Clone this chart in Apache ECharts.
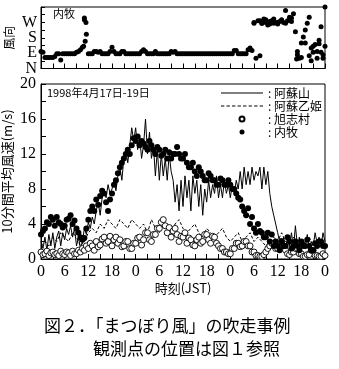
<!DOCTYPE html>
<html><head><meta charset="utf-8">
<script src="https://cdn.jsdelivr.net/npm/echarts@6/dist/echarts.min.js"></script>
<style>html,body{margin:0;padding:0;background:#fff}#c{width:339px;height:369px}</style>
</head><body><div id="c"></div>
<script>
// time step of the 30-minute arrays (hours)
const STEP = 0.5;
// x ticks every 3 h, labels every 6 h (hour of day)
const xTickHours = 3;
const dirLabels = {0:'N', 90:'E', 180:'S', 270:'W'};
const legendNames = ['阿蘇山','阿蘇乙姫','旭志村','内牧'];

// 阿蘇山 (solid line), every 30 min, h0..h72
const asosan = [
 2.0,1.2,2.5,1.0,2.8,1.5,3.0,1.2,2.5,3.2,1.5,3.0,2.2,3.5,2.8,3.8,2.5,3.5,1.5,2.5,1.2,2.0,3.5,2.8,
 4.2,3.5,4.8,4.0,5.5,6.5,5.0,7.0,8.0,7.0,8.5,7.5,8.0,9.0,7.8,9.5,10.5,9.0,11.5,12.5,11.0,13.0,15.0,13.5,
 15.0,12.5,14.0,11.5,13.0,16.0,12.0,14.5,11.5,13.0,9.5,12.5,9.0,12.0,9.5,11.5,9.0,12.0,10.0,9.0,6.5,8.5,5.5,9.0,
 6.0,9.5,7.0,9.0,5.5,9.5,7.5,9.0,6.0,8.5,5.0,8.0,6.5,9.0,7.0,8.5,7.5,9.5,7.0,8.5,7.0,9.0,7.5,8.5,
 7.0,8.5,7.5,9.0,8.0,10.0,8.0,10.5,8.5,10.0,8.5,10.5,9.0,10.0,9.5,10.5,8.0,10.5,8.5,10.0,7.5,6.0,5.0,4.0,
 3.0,2.0,1.5,2.5,1.0,2.5,1.5,3.0,1.2,3.8,1.5,2.5,1.0,2.2,1.5,2.8,1.2,2.0,1.5,3.0,1.8,2.5,1.5,3.0,2.0
];
// 阿蘇乙姫 (dashed line), hourly, h0..h72
const otohime = [
 1.5,2,1.5,2.5,2,3,2.5,2,3,2.5,1.5,
 2,3,3.5,3,4,3.5,4.5,4,3.5,4.5,4,3.5,4.5,4,
 3.5,4,3,4.5,3.5,3,4,3.5,3,4,4.5,3.5,3,3.5,4,3,2.5,3.5,3,2.5,3,3.5,2.5,2,
 2.5,3,2,2.5,3,2,2.5,2,1.5,2,2.5,2,3,2,1.5,2.5,2,1.5,2,2.5,1.5,2,1.5,2
];
// 旭志村 (open circles), every 30 min
const kyokushi = [
 0.8,0.5,0.6,0.9,0.4,0.7,0.8,0.5,0.6,0.4,0.9,0.6,0.5,0.8,0.7,0.4,0.9,0.6,0.6,1.0,
 0.8,1.2,1.0,1.5,1.2,1.8,1.5,1.0,2.0,1.4,1.6,2.3,2.5,1.8,2.0,2.6,1.5,2.2,2.5,1.8,
 2.2,1.4,1.5,2.0,2.0,1.2,1.2,1.8,1.8,2.4,2.5,1.6,2.2,3.0,3.0,2.2,2.0,2.8,2.8,3.5,
 3.5,4.2,4.5,3.8,3.0,3.6,2.5,3.2,3.5,2.8,2.0,2.6,2.5,3.0,1.8,2.4,2.2,1.6,1.5,2.2,
 2.5,1.8,2.0,2.8,2.8,2.2,1.8,2.6,2.5,1.8,1.5,1.2,1.2,0.8,0.8,0.6,0.6,1.2,1.2,1.8,
 1.8,1.4,1.5,2.0,2.0,1.5,1.5,0.8,0.8,0.4,0.4,0.3,0.3,0.5,0.8,1.2,1.5,1.8,1.8,1.2,
 1.2,2.0,2.0,1.5,1.0,0.6,0.5,0.8,0.8,1.2,1.2,0.6,0.6,0.3,0.3,0.5,0.5,1.0,1.0,0.4,
 0.4,0.3,0.3,0.6,0.4
];
// 内牧 (filled dots), every 30 min
const naimaki = [
 2.8,3.2,3.5,4.2,4.0,4.8,4.5,3.8,4.8,4.2,4.0,3.6,3.8,4.5,4.6,5.0,4.0,4.4,3.5,3.0,
 2.5,2.2,2.4,3.5,4.5,5.5,6.0,5.5,6.8,6.2,7.2,7.8,7.5,6.5,5.5,6.8,7.5,8.5,9.0,9.8,
 10.5,11.0,11.5,12.0,12.5,12.0,13.0,13.8,13.5,14.0,13.0,13.5,13.2,12.8,12.5,13.5,13.0,12.5,12.0,12.8,
 12.5,11.8,12.0,12.5,11.5,12.2,11.5,12.0,12.0,12.8,12.0,11.5,11.5,12.0,11.0,10.5,10.5,11.0,10.0,9.5,
 10.5,10.0,9.5,9.0,9.0,9.8,9.5,9.0,9.0,8.5,8.5,9.2,9.0,8.5,8.5,9.0,8.5,8.0,8.0,7.5,
 7.0,6.8,6.0,5.5,5.0,5.8,4.0,4.8,3.5,3.0,4.0,3.2,3.0,2.5,2.5,3.0,2.0,2.8,1.5,2.0,
 1.5,1.0,2.0,1.5,1.5,2.5,2.0,1.2,1.5,2.0,1.5,1.0,2.0,1.5,1.5,2.2,1.5,1.0,1.0,1.8,
 1.5,2.0,2.0,1.5,1.5
];
// 内牧 wind direction (deg), every 30 min
const naimakiDir = [
 100,95,65,65,65,65,65,70,86,86,50,86,86,86,86,86,86,86,95,100,110,125,285,200,86,
 86,86,100,100,95,100,86,86,86,86,100,125,100,86,86,86,100,100,86,86,86,86,86,86,86,
 86,100,110,100,86,86,86,86,100,86,86,86,86,86,86,86,100,95,100,86,86,86,86,86,86,86,
 86,86,86,86,86,86,86,86,86,86,86,86,86,86,86,86,86,86,86,86,86,86,105,105,86,86,86,
 86,86,110,120,105,
 270,60,280,75,
 265,290,270,255,275,280,265,270,260,275,285,270,265,280,300,275,320,
 215,
 80,60,150,185,225,265,300,120,95,140,100,165,245,80,130,280
];
// additional 内牧 direction readings [hour, deg]
const naimakiDirExtra = [
 [10.8,130],[11.0,295],[11.2,160],[11.4,270],[54.0,265],[55.5,280],[56,265],[57,285],
 [58,260],[59,290],[60,270],[61,280],[62,340],[63.5,295],[64.8,55],[65,100],[66,65],
 [67,150],[68,75],[68.5,45],[69,130],[70,60],[70.5,145],[71,95],[71.5,60],[72,360]
];

const toPairs = (arr, step) => arr.map((v, i) => [i * step, v]);

const serif = 'Liberation Serif';
const cjk = 'Noto Sans CJK JP';
const black = '#000';
const solidIcon = 'path://M0,0h40v1h-40z';
const dashIcon = 'path://M0,0h3v1h-3z M5,0h3v1h-3z M10,0h3v1h-3z M15,0h3v1h-3z M20,0h3v1h-3z M25,0h3v1h-3z M30,0h3v1h-3z M35,0h3v1h-3z';

const chart = echarts.init(document.getElementById('c'), null, {renderer: 'canvas'});
chart.setOption({
  animation: false,
  backgroundColor: '#fff',
  grid: [
    {left: 41, top: 7, width: 284, height: 61.5, show: true, borderColor: black, borderWidth: 1,
     containLabel: false, outerBoundsMode: 'none'},
    {left: 41, top: 84, width: 284, height: 175, show: true, borderColor: black, borderWidth: 1,
     containLabel: false, outerBoundsMode: 'none'}
  ],
  xAxis: [
    {gridIndex: 0, type: 'value', min: 0, max: 72, interval: xTickHours,
     axisLine: {lineStyle: {color: black, width: 1}},
     axisTick: {inside: true, length: 5, lineStyle: {color: black}},
     axisLabel: {show: false}, splitLine: {show: false}},
    {gridIndex: 1, type: 'value', min: 0, max: 72, interval: xTickHours,
     axisLine: {lineStyle: {color: black, width: 1}},
     axisTick: {inside: true, length: 5, lineStyle: {color: black}},
     axisLabel: {color: black, fontFamily: serif, fontSize: 16, margin: 5,
       showMinLabel: true, showMaxLabel: true,
       formatter: v => (v % 6 === 0 ? String(v % 24) : '')},
     splitLine: {show: false},
     name: '時刻(JST)', nameLocation: 'middle', nameGap: 23, nameMoveOverlap: false,
     nameTextStyle: {color: black, fontFamily: cjk, fontSize: 13}}
  ],
  yAxis: [
    {gridIndex: 0, type: 'value', min: 0, max: 360, interval: 45,
     axisLine: {lineStyle: {color: black, width: 1}},
     axisTick: {inside: true, length: 4, lineStyle: {color: black}},
     axisLabel: {color: black, fontFamily: serif, fontSize: 16, margin: 4,
       showMinLabel: true, showMaxLabel: true,
       formatter: v => dirLabels[v] || ''},
     splitLine: {show: false},
     name: '風向', nameLocation: 'middle', nameRotate: 90, nameGap: 26, nameMoveOverlap: false,
     nameTextStyle: {color: black, fontFamily: cjk, fontSize: 12}},
    {gridIndex: 1, type: 'value', min: 0, max: 20, interval: 2,
     axisLine: {lineStyle: {color: black, width: 1}},
     axisTick: {inside: true, length: 5, lineStyle: {color: black}},
     axisLabel: {color: black, fontFamily: serif, fontSize: 16, margin: 5,
       showMinLabel: true, showMaxLabel: true,
       formatter: v => (v % 4 === 0 ? String(v) : '')},
     splitLine: {show: false},
     name: '10分間平均風速(m/s)', nameLocation: 'middle', nameRotate: 90, nameGap: 27, nameMoveOverlap: false,
     nameTextStyle: {color: black, fontFamily: cjk, fontSize: 13}}
  ],
  legend: {
    data: [
      {name: '阿蘇山', icon: solidIcon, itemStyle: {color: black}},
      {name: '阿蘇乙姫', icon: dashIcon, itemStyle: {color: black}},
      {name: '旭志村', icon: 'circle'},
      {name: '内牧', icon: 'circle'}
    ],
    orient: 'vertical', left: 216, top: 82,
    itemWidth: 42, itemHeight: 5, itemGap: 1,
    formatter: n => ': ' + n,
    textStyle: {color: black, fontFamily: cjk, fontSize: 12}
  },
  series: [
    {name: '阿蘇山', type: 'line', xAxisIndex: 1, yAxisIndex: 1, symbol: 'none',
     lineStyle: {color: black, width: 1}, itemStyle: {color: black},
     data: toPairs(asosan, STEP), z: 2},
    {name: '阿蘇乙姫', type: 'line', xAxisIndex: 1, yAxisIndex: 1, symbol: 'none',
     lineStyle: {color: black, width: 1, type: [3, 2]}, itemStyle: {color: black},
     data: toPairs(otohime, 1), z: 2},
    {name: '旭志村', type: 'scatter', xAxisIndex: 1, yAxisIndex: 1, symbol: 'circle', symbolSize: 6,
     itemStyle: {color: '#fff', borderColor: black, borderWidth: 0.9, opacity: 1},
     data: toPairs(kyokushi, STEP), z: 3},
    {name: '内牧', type: 'scatter', xAxisIndex: 1, yAxisIndex: 1, symbol: 'circle', symbolSize: 6,
     itemStyle: {color: black, opacity: 1},
     data: toPairs(naimaki, STEP), z: 4},
    {name: '内牧風向', type: 'scatter', xAxisIndex: 0, yAxisIndex: 0, symbol: 'circle', symbolSize: 5,
     itemStyle: {color: black, opacity: 1},
     data: toPairs(naimakiDir, STEP).concat(naimakiDirExtra), z: 4}
  ],
  graphic: [
    {type: 'text', left: 53, top: 8, style: {text: '内牧', fill: black, font: '11px "Noto Sans CJK JP"'}},
    {type: 'text', left: 47, top: 87, style: {text: '1998年4月17日-19日', fill: black, font: '11px "Noto Sans CJK JP"'}},
    {type: 'text', left: 44, top: 317, style: {text: '図２．「まつぼり風」の吹走事例', fill: black, font: '17px "Noto Sans CJK JP"'}},
    {type: 'text', left: 93, top: 340, style: {text: '観測点の位置は図１参照', fill: black, font: '17px "Noto Sans CJK JP"'}}
  ]
});
</script>
</body></html>
